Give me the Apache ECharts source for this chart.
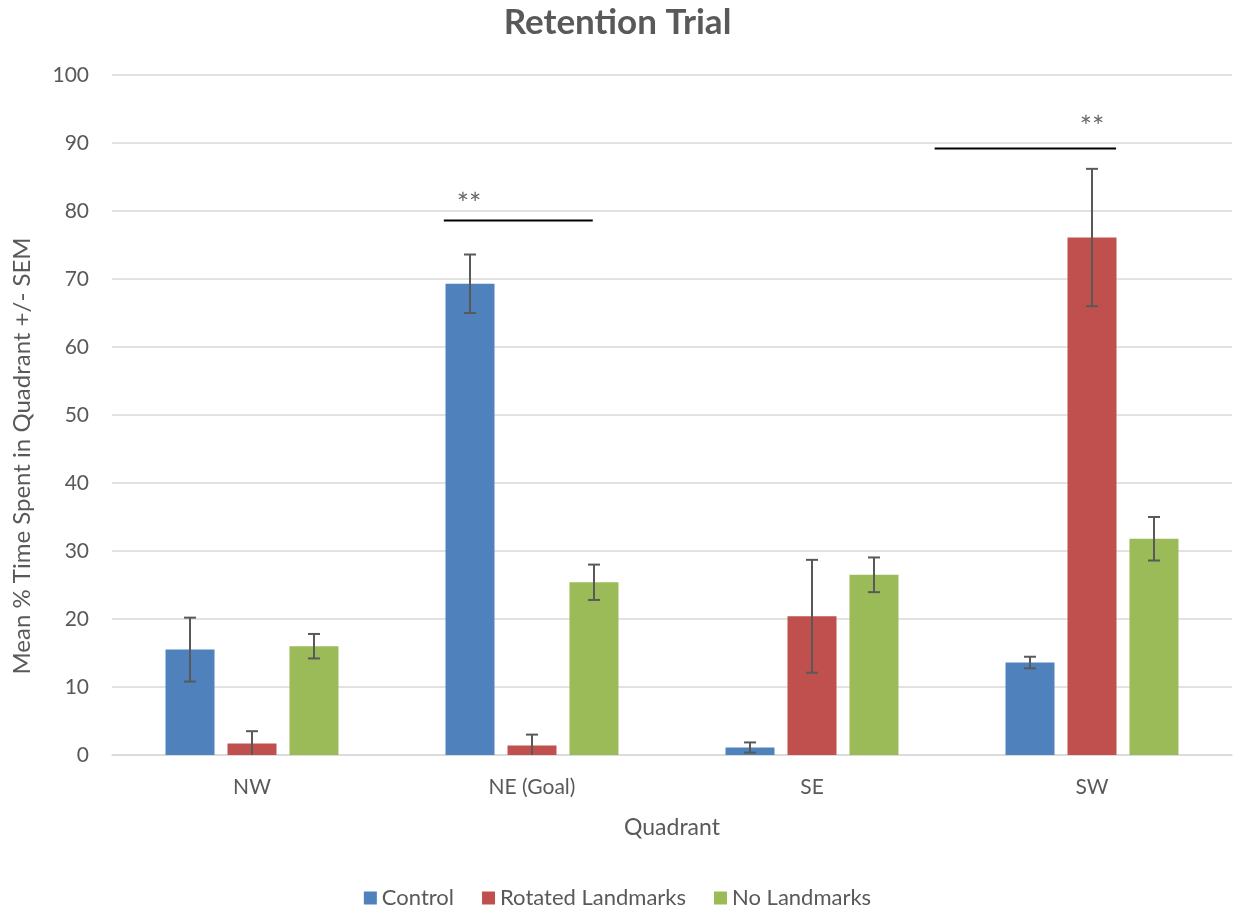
<!DOCTYPE html>
<html><head><meta charset="utf-8">
<script src="https://cdn.jsdelivr.net/npm/echarts@6/dist/echarts.min.js"></script>
<style>html,body{margin:0;padding:0;background:#fff}#c{width:1235px;height:908px}</style>
</head><body><div id="c"></div>
<script>
const categories = ['NW', 'NE (Goal)', 'SE', 'SW'];
const seriesNames = ['Control', 'Rotated Landmarks', 'No Landmarks'];
const control = [15.5, 69.3, 1.1, 13.6];
const rotated = [1.7, 1.4, 20.4, 76.1];
const noLandmarks = [16.0, 25.4, 26.5, 31.8];
const controlSem = [4.7, 4.3, 0.75, 0.85];
const rotatedSem = [1.8, 1.6, 8.3, 10.1];
const noLandmarksSem = [1.8, 2.6, 2.55, 3.2];
const yTicks = [0, 10, 20, 30, 40, 50, 60, 70, 80, 90, 100];
// significance brackets: [xStart, xEnd, y] in category units (category i spans i..i+1)
const sigLines = [[1.185, 1.717, 78.6], [2.938, 3.586, 89.2]];
const sigLabels = [[1.275, 81.0, '**'], [3.5, 92.2, '**']];

const colors = ['#4F81BD', '#C0504D', '#9BBB59'];
const FONT = 'Lato';
const TXT = '#595959';
const BAR_W = 49, BAR_GAP = 0.265;

const values = [control, rotated, noLandmarks];
const sems = [controlSem, rotatedSem, noLandmarksSem];

const chart = echarts.init(document.getElementById('c'));

const barSeries = seriesNames.map((n, i) => ({
  name: n, type: 'bar', xAxisIndex: 0, yAxisIndex: 0,
  data: values[i], barWidth: BAR_W, barGap: (BAR_GAP * 100) + '%',
  itemStyle: { color: colors[i] }, z: 2
}));

const errSeries = seriesNames.map((n, i) => ({
  type: 'custom', xAxisIndex: 0, yAxisIndex: 0, z: 5,
  data: values[i].map((v, k) => [k, v, sems[i][k]]),
  renderItem: function (params, api) {
    const k = api.value(0), v = api.value(1), s = api.value(2);
    const off = (i - 1) * BAR_W * (1 + BAR_GAP);
    const top = api.coord([k, v + s]);
    const clipped = v - s < 0;
    const bot = api.coord([k, Math.max(0, v - s)]);
    const x = top[0] + off;
    const cap = 6;
    const st = { stroke: '#595959', lineWidth: 2 };
    const children = [
      { type: 'line', shape: { x1: x, y1: top[1], x2: x, y2: bot[1] }, style: st },
      { type: 'line', shape: { x1: x - cap, y1: top[1], x2: x + cap, y2: top[1] }, style: st }
    ];
    if (!clipped) children.push({ type: 'line', shape: { x1: x - cap, y1: bot[1], x2: x + cap, y2: bot[1] }, style: st });
    return { type: 'group', children };
  }
}));

const sigSeries = sigLines.map(l => ({
  type: 'line', xAxisIndex: 1, yAxisIndex: 0, symbol: 'none', silent: true, z: 6,
  data: [[l[0], l[2]], [l[1], l[2]]],
  lineStyle: { color: '#000', width: 2 }
}));

const sigText = {
  type: 'scatter', xAxisIndex: 1, yAxisIndex: 0, symbolSize: 0, silent: true, z: 6,
  data: sigLabels.map(s => [s[0], s[1]]),
  label: { show: true, position: 'inside', formatter: p => sigLabels[p.dataIndex][2],
           fontFamily: FONT, fontSize: 29, color: '#404040' }
};

chart.setOption({
  animation: false,
  color: colors,
  title: { text: 'Retention Trial', left: 'center', top: 0,
    textStyle: { fontFamily: FONT, fontSize: 35, fontWeight: 'bold', color: TXT } },
  legend: { top: 882, left: 'center', data: seriesNames, icon: 'rect', itemWidth: 13, itemHeight: 13,
    itemGap: 28, textStyle: { fontFamily: FONT, fontSize: 22, color: TXT } },
  grid: { left: 112, right: 3, top: 75, bottom: 153, containLabel: false, outerBoundsMode: 'none' },
  xAxis: [
    { type: 'category', data: categories, name: 'Quadrant', nameLocation: 'middle', nameGap: 61,
      nameTextStyle: { fontFamily: FONT, fontSize: 23, color: TXT },
      axisLine: { lineStyle: { color: '#D9D9D9', width: 1.5 } }, axisTick: { show: false },
      axisLabel: { fontFamily: FONT, fontSize: 21, color: TXT, margin: 22 } },
    { type: 'value', min: 0, max: 4, show: false }
  ],
  yAxis: { type: 'value', min: 0, max: 100, interval: 10,
    name: 'Mean % Time Spent in Quadrant +/- SEM', nameLocation: 'middle', nameGap: 78,
    nameTextStyle: { fontFamily: FONT, fontSize: 24, color: TXT, padding: [0, 82, 0, 0] },
    axisLine: { show: false }, axisTick: { show: false },
    axisLabel: { fontFamily: FONT, fontSize: 21, color: TXT, margin: 23,
      formatter: v => yTicks.includes(v) ? String(v) : '' },
    splitLine: { lineStyle: { color: '#D9D9D9', width: 1.5 } } },
  series: [...barSeries, ...errSeries, ...sigSeries, sigText]
});
</script></body></html>
